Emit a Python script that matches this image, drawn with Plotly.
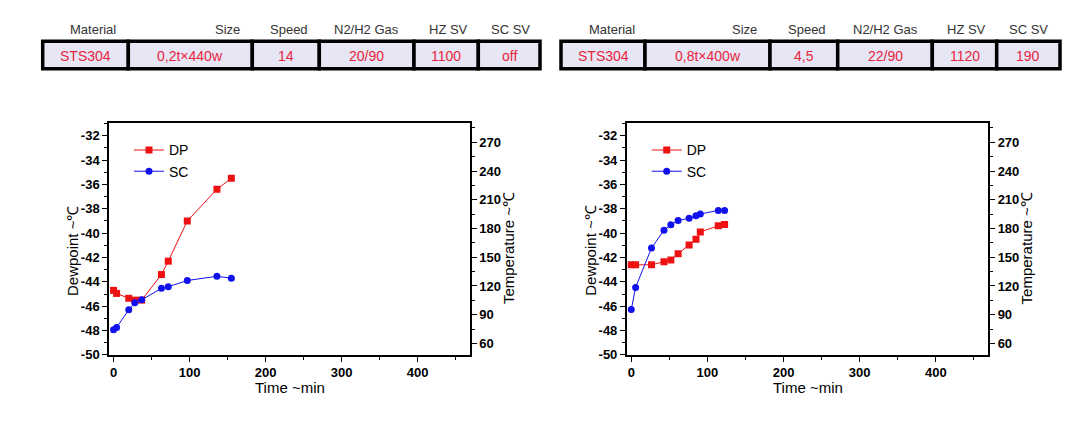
import plotly.graph_objects as go

# page body has an 8px margin; the figure is sized to sit inside it with room to spare
OFF = 8
W, H = 1091 - 2 * OFF, 400

# ---------------- data ----------------
headers = ["Material", "Size", "Speed", "N2/H2 Gas", "HZ SV", "SC SV"]
table1_values = ["STS304", "0,2t×440w", "14", "20/90", "1100", "off"]
table2_values = ["STS304", "0,8t×400w", "4,5", "22/90", "1120", "190"]

series_names = ["DP", "SC"]

time1 = [0, 4, 20, 28, 37, 63, 72, 97, 136, 155]
dp1 = [-44.7, -44.95, -45.35, -45.5, -45.5, -43.4, -42.3, -39.0, -36.4, -35.5]
sc1 = [74.3, 76.7, 95.1, 102.5, 105.6, 117.5, 119.2, 125.7, 130.1, 128.1]

time2 = [0, 5.7, 26.6, 43, 52, 61.5, 76, 85, 90.7, 114.3, 122.6]
dp2 = [-42.6, -42.6, -42.6, -42.35, -42.2, -41.7, -40.97, -40.5, -39.9, -39.4, -39.3]
sc2 = [95.4, 118.5, 159.7, 178.1, 183.9, 188.3, 190.7, 193.4, 195.1, 198.9, 198.9]

dew_ticks = [-50, -48, -46, -44, -42, -40, -38, -36, -34, -32]
dew_labels = ["-50", "-48", "-46", "-44", "-42", "-40", "-38", "-36", "-34", "-32"]
temp_ticks = [60, 90, 120, 150, 180, 210, 240, 270]
time_ticks = [0, 100, 200, 300, 400]

# ---------------- layout helpers ----------------
def px(x):
    return (x - OFF) / W

def py(y):
    return 1 - (y - OFF) / H

RED = "#EE1111"
BLUE = "#1111EE"
NARROW = "Liberation Sans Narrow, Arial Narrow, Liberation Sans, Arial"
TICKFONT = dict(family=NARROW, size=13, color="black", weight="bold")
TITLEFONT = dict(family=NARROW, size=15, color="black")

fig = go.Figure()

panels = [
    dict(t=time1, dp=dp1, sc=sc1, x0=109, x1=470, xa="x", ya="y", ya2="y2", leg="legend"),
    dict(t=time2, dp=dp2, sc=sc2, x0=626.7, x1=988.3, xa="x2", ya="y3", ya2="y4", leg="legend2"),
]

for p in panels:
    fig.add_trace(go.Scatter(
        x=p["t"], y=p["dp"], name=series_names[0], mode="lines+markers",
        line=dict(color=RED, width=1), marker=dict(symbol="square", size=7, color=RED),
        xaxis=p["xa"], yaxis=p["ya"], legend=p["leg"]))
    fig.add_trace(go.Scatter(
        x=p["t"], y=p["sc"], name=series_names[1], mode="lines+markers",
        line=dict(color=BLUE, width=1), marker=dict(symbol="circle", size=7, color=BLUE),
        xaxis=p["xa"], yaxis=p["ya2"], legend=p["leg"]))

ytop, ybot = 125, 362
common_axis = dict(showgrid=False, zeroline=False, showline=True, linecolor="black",
                   linewidth=1.5, ticks="outside", tickcolor="black", tickwidth=1.2,
                   ticklen=5, tickfont=TICKFONT)
minor_ax = dict(ticks="outside", ticklen=3, tickcolor="black", tickwidth=1, showgrid=False)

layout = dict(
    width=W, height=H, margin=dict(l=0, r=0, t=0, b=0),
    paper_bgcolor="white", plot_bgcolor="white", showlegend=True,
)

for i, p in enumerate(panels):
    xname = "xaxis" if i == 0 else "xaxis2"
    yname = "yaxis" if i == 0 else "yaxis3"
    y2name = "yaxis2" if i == 0 else "yaxis4"
    layout[xname] = dict(common_axis, domain=[px(p["x0"]), px(p["x1"])], range=[-6, 469],
                         tickvals=time_ticks, anchor=p["ya"], mirror=True,
                         minor=dict(minor_ax, dtick=50, tick0=0))
    layout[yname] = dict(common_axis, domain=[py(ybot), py(ytop)], range=[-50, -30.93],
                         tickvals=dew_ticks, ticktext=dew_labels, anchor=p["xa"],
                         minor=dict(minor_ax, dtick=1, tick0=-50))
    layout[y2name] = dict(common_axis, domain=[py(ybot), py(ytop)], range=[48, 290.5],
                          tickvals=temp_ticks, anchor=p["xa"], overlaying=p["ya"], side="right",
                          minor=dict(minor_ax, dtick=15, tick0=60))
    layout[p["leg"]] = dict(x=px(p["x0"] + 20), y=py(137), xanchor="left", yanchor="top",
                            bgcolor="rgba(0,0,0,0)", borderwidth=0,
                            font=dict(family="Liberation Sans, Arial", size=14, color="black"),
                            itemwidth=30, tracegroupgap=0)

fig.update_layout(**layout)

# axis titles
for p in panels:
    fig.add_annotation(text="Dewpoint ~℃", textangle=-90, x=px(p["x0"] - 37), y=py(256),
                       xref="paper", yref="paper", showarrow=False, font=TITLEFONT,
                       xanchor="center", yanchor="middle")
    fig.add_annotation(text="Temperature ~℃", textangle=-90, x=px(p["x1"] + 38), y=py(253),
                       xref="paper", yref="paper", showarrow=False, font=TITLEFONT,
                       xanchor="center", yanchor="middle")
    fig.add_annotation(text="Time ~min", x=px((p["x0"] + p["x1"]) / 2), y=py(395),
                       xref="paper", yref="paper", showarrow=False, font=TITLEFONT,
                       xanchor="center", yanchor="middle")

# ---------------- tables ----------------
tables = [
    dict(values=table1_values,
         bounds=[42.7, 128.3, 252.3, 319.3, 414, 478.3, 540],
         hdr=[("c", 93), ("r", 241.7), ("c", 289), ("c", 366.7), ("c", 448), ("c", 510)]),
    dict(values=table2_values,
         bounds=[561, 645, 770, 837.7, 932.3, 996.7, 1060],
         hdr=[("c", 611.7), ("r", 759), ("c", 806.7), ("c", 885), ("c", 966.7), ("c", 1028)]),
]
t_top, t_bot = 42, 70
HDRFONT = dict(family="Liberation Sans, Arial", size=13, color="#333333")
CELLFONT = dict(family="Liberation Sans, Arial", size=14, color="#E8243C")

for tb in tables:
    b = tb["bounds"]
    for k in range(6):
        fig.add_shape(type="rect", xref="paper", yref="paper",
                      x0=px(b[k]), x1=px(b[k + 1]), y0=py(t_bot), y1=py(t_top),
                      fillcolor="#E6E6F4", line=dict(color="black", width=3.5), layer="below")
        fig.add_annotation(text=tb["values"][k], x=px((b[k] + b[k + 1]) / 2), y=py(56.5),
                           xref="paper", yref="paper", showarrow=False, font=CELLFONT,
                           xanchor="center", yanchor="middle")
        al, xpos = tb["hdr"][k]
        fig.add_annotation(text=headers[k], x=px(xpos), y=py(30),
                           xref="paper", yref="paper", showarrow=False, font=HDRFONT,
                           xanchor="right" if al == "r" else "center", yanchor="middle")

fig.write_html("out.html")
